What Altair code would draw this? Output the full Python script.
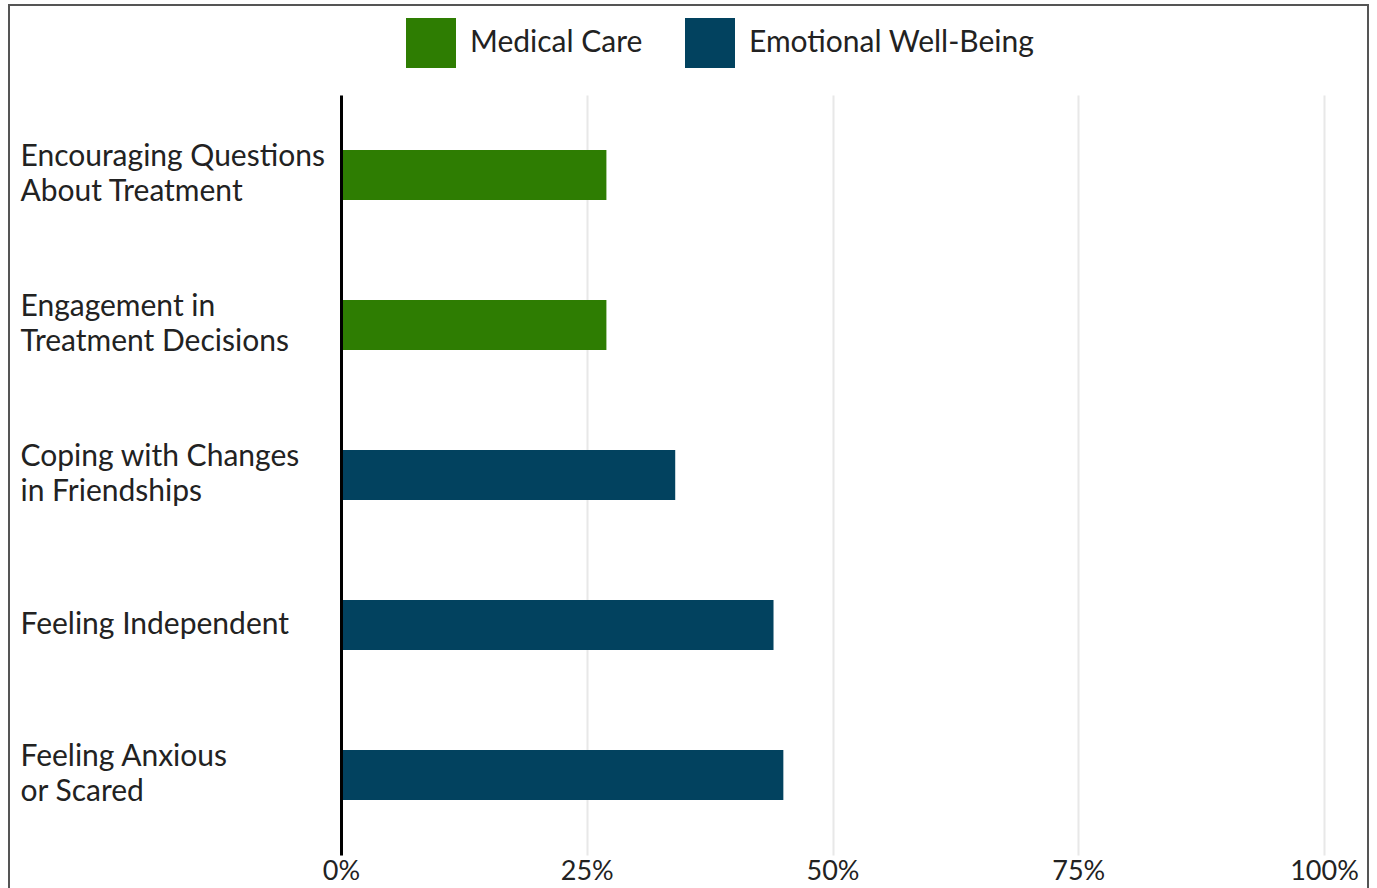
import altair as alt
import pandas as pd

categories = [
    "Encouraging Questions|About Treatment",
    "Engagement in|Treatment Decisions",
    "Coping with Changes|in Friendships",
    "Feeling Independent",
    "Feeling Anxious|or Scared",
]
values = [0.27, 0.27, 0.34, 0.44, 0.45]
groups = ["Medical Care", "Medical Care", "Emotional Well-Being",
          "Emotional Well-Being", "Emotional Well-Being"]
group_order = ["Medical Care", "Emotional Well-Being"]
group_colors = ["#2e7d02", "#02425f"]
tick_values = [0, 0.25, 0.5, 0.75, 1.0]

df = pd.DataFrame({"cat": categories, "val": values, "grp": groups})

FONT = "Lato"

bars = alt.Chart(df).mark_bar().encode(
    x=alt.X("val:Q",
            scale=alt.Scale(domain=[0, 1], nice=False, zero=True),
            axis=alt.Axis(values=tick_values, format="%", title=None,
                          grid=True, gridColor="#e8e8e8", gridWidth=2,
                          domain=False, ticks=False, tickSize=0,
                          labelFlush=False,
                          labelFontSize=27, labelFont=FONT, labelColor="#222222",
                          labelPadding=3)),
    y=alt.Y("cat:N", sort=categories,
            scale=alt.Scale(paddingInner=0.667, paddingOuter=0.367),
            axis=alt.Axis(title=None, ticks=False, tickSize=0, domain=True,
                          domainColor="#000000", domainWidth=3, grid=False,
                          labelAlign="left", labelPadding=321,
                          labelExpr="split(datum.label, '|')",
                          labelOffset={"condition": {"test": "indexof(datum.value, '|') >= 0",
                                                     "value": -18},
                                       "value": 0},
                          labelFontSize=30, labelFont=FONT, labelColor="#222222",
                          labelLineHeight=35, labelLimit=400, zindex=2)),
    color=alt.Color("grp:N",
                    scale=alt.Scale(domain=group_order, range=group_colors),
                    legend=alt.Legend(title=None, orient="none", direction="horizontal",
                                      legendX=65, legendY=-77,
                                      symbolType="square", symbolSize=2500,
                                      symbolStrokeWidth=0, symbolOpacity=1,
                                      labelFontSize=30, labelFont=FONT,
                                      labelColor="#222222", labelOffset=14,
                                      labelLimit=400, columnPadding=42)),
)

frame = alt.Chart(df).mark_rect(fill=None, stroke="#555555", strokeWidth=2).encode(
    x=alt.value(-332), x2=alt.value(1027), y=alt.value(-90), y2=alt.value(900)
)

chart = alt.layer(frame, bars).properties(
    width=983, height=760,
    autosize=alt.AutoSizeParams(type="none"),
    padding={"left": 341, "top": 95, "right": 53, "bottom": 33},
    background="white",
).configure_view(stroke=None)

chart.save("out.html", embed_options={"renderer": "svg", "actions": False})
